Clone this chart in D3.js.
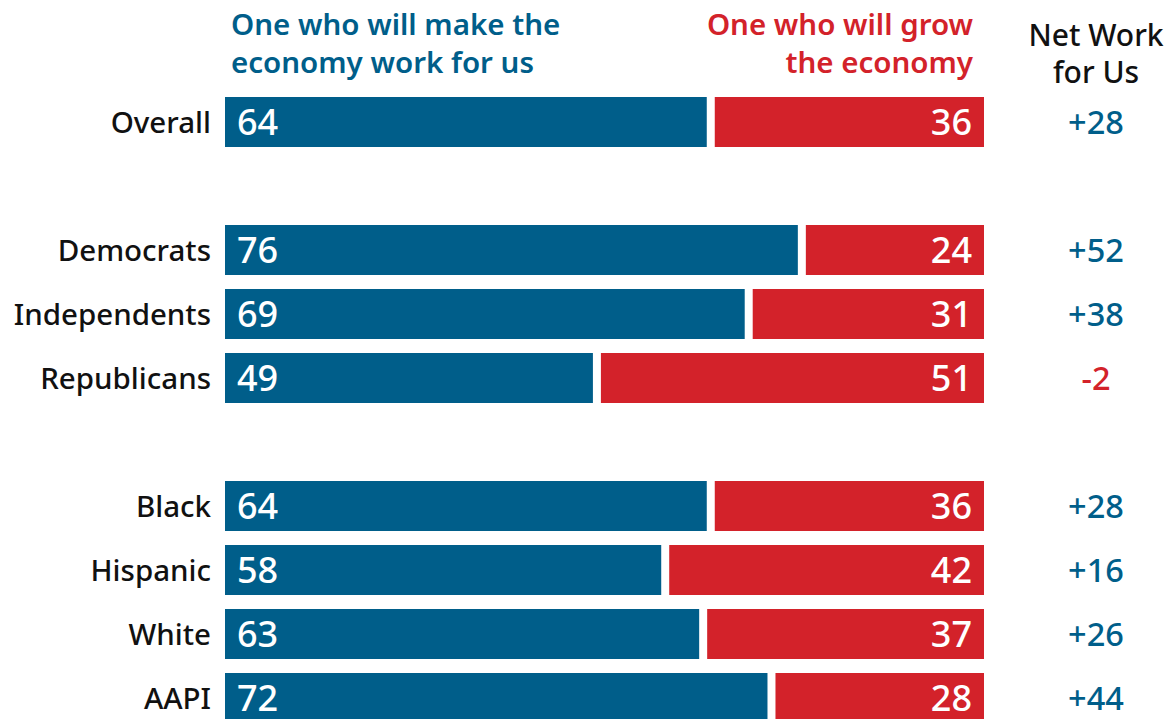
<!DOCTYPE html>
<html><head><meta charset="utf-8">
<script src="https://cdn.jsdelivr.net/npm/d3@7"></script>
<style>body{margin:0;background:#fff}svg{display:block}</style>
</head><body>
<svg id="c" width="1169" height="719"></svg>
<script>
const slots = ["Overall","_g1","Democrats","Independents","Republicans","_g2","Black","Hispanic","White","AAPI"];
const categories = ["Overall","Democrats","Independents","Republicans","Black","Hispanic","White","AAPI"];
const workForUs = [64,76,69,49,64,58,63,72];
const growEconomy = [36,24,31,51,36,42,37,28];
const netLabels = ["+28","+52","+38","-2","+28","+16","+26","+44"];
const netValues = [28,52,38,-2,28,16,26,44];
const headerBlue = ["One who will make the","economy work for us"];
const headerRed = ["One who will grow","the economy"];
const headerNet = ["Net Work","for Us"];

const BLUE = "#005e8a", RED = "#d3222a";
const FONT = "'Noto Sans', sans-serif";
const svg = d3.select("#c");
const x = d3.scaleLinear().domain([0,100]).range([225,984]);
const y = d3.scaleBand().domain(slots).range([97,723]).paddingInner(14/64).paddingOuter(0);
const gap = 4;
const data = categories.map((c,i)=>({c, a:workForUs[i], b:growEconomy[i], n:netLabels[i], v:netValues[i]}));

const g = svg.append("g");
g.selectAll("rect.a").data(data).join("rect")
  .attr("x", x(0)).attr("y", d=>y(d.c)).attr("height", y.bandwidth())
  .attr("width", d=>x(d.a)-gap-x(0)).attr("fill", BLUE);
g.selectAll("rect.b").data(data).join("rect")
  .attr("x", d=>x(d.a)+gap).attr("y", d=>y(d.c)).attr("height", y.bandwidth())
  .attr("width", d=>x(100)-(x(d.a)+gap)).attr("fill", RED);

const mid = d=>y(d.c)+y.bandwidth()/2;
g.selectAll("text.va").data(data).join("text")
  .attr("x", x(0)+12).attr("y", d=>mid(d)+13).text(d=>d.a)
  .attr("fill","#fff").attr("font-family",FONT).attr("font-size",36).attr("font-weight",500);
g.selectAll("text.vb").data(data).join("text")
  .attr("x", x(100)-12).attr("y", d=>mid(d)+13).attr("text-anchor","end").text(d=>d.b)
  .attr("fill","#fff").attr("font-family",FONT).attr("font-size",36).attr("font-weight",500);
g.selectAll("text.cat").data(data).join("text")
  .attr("x", 211).attr("y", d=>mid(d)+11).attr("text-anchor","end").text(d=>d.c)
  .attr("fill","#111").attr("font-family",FONT).attr("font-size",29.5).attr("font-weight",500);
g.selectAll("text.net").data(data).join("text")
  .attr("x", 1096).attr("y", d=>mid(d)+12).attr("text-anchor","middle").text(d=>d.n)
  .attr("fill",d=>d.v<0?RED:BLUE).attr("font-family",FONT).attr("font-size",32.5).attr("font-weight",500);

svg.append("text").attr("font-family",FONT).attr("font-size",29.5).attr("font-weight",600).attr("fill",BLUE)
  .selectAll("tspan").data(headerBlue).join("tspan").attr("x",231).attr("y",(d,i)=>35+i*38).text(d=>d);
svg.append("text").attr("font-family",FONT).attr("font-size",29.5).attr("font-weight",600).attr("fill",RED).attr("text-anchor","end")
  .selectAll("tspan").data(headerRed).join("tspan").attr("x",973).attr("y",(d,i)=>35+i*38).text(d=>d);
svg.append("text").attr("font-family",FONT).attr("font-size",30).attr("font-weight",500).attr("fill","#111").attr("text-anchor","middle")
  .selectAll("tspan").data(headerNet).join("tspan").attr("x",1096).attr("y",(d,i)=>46+i*37).text(d=>d);
</script>
</body></html>
